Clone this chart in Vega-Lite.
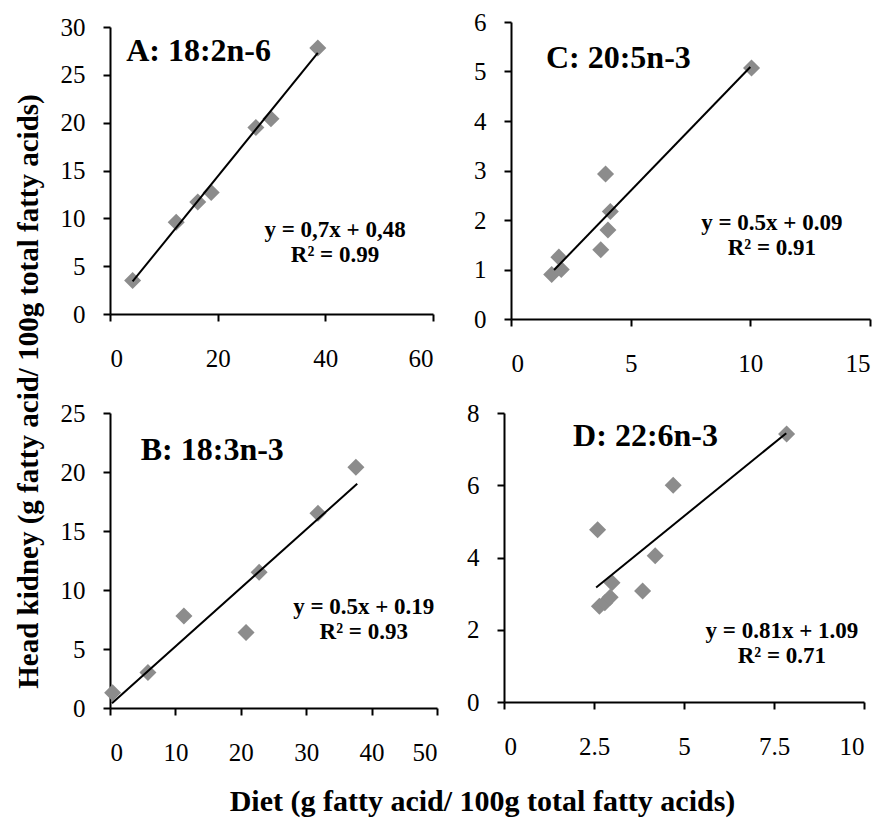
{
  "$schema": "https://vega.github.io/schema/vega-lite/v6.json",
  "background": "white",
  "padding": {"left": 14, "top": 10, "right": 5, "bottom": 5},
  "config": {
    "view": {"stroke": null},
    "font": "Liberation Serif",
    "axis": {
      "grid": false,
      "domainColor": "#000",
      "domainWidth": 2,
      "tickColor": "#000",
      "tickWidth": 2,
      "tickSize": 7,
      "labelFont": "Liberation Serif",
      "labelFontSize": 25,
      "labelColor": "#000",
      "title": null,
      "labelExpr": "'' + datum.value"
    },
    "axisX": {"labelPadding": 25},
    "axisY": {"labelPadding": 18},
    "point": {"shape": "diamond", "filled": true, "size": 290, "color": "#8c8c8c", "opacity": 1},
    "line": {"color": "#000", "strokeWidth": 2},
    "text": {"font": "Liberation Serif", "fontWeight": "bold", "color": "#000"}
  },
  "title": {
    "text": "Head kidney (g fatty acid/ 100g total fatty acids)",
    "orient": "left",
    "anchor": "middle",
    "font": "Liberation Serif",
    "fontSize": 29,
    "fontWeight": "bold",
    "color": "#000",
    "offset": 16,
    "dx": 22
  },
  "spacing": 25,
  "vconcat": [
    {
      "hconcat": [
        {
          "width": 323,
          "height": 287,
          "layer": [
            {
              "data": {"values": [
                {"diet": 4.2, "kidney": 3.5},
                {"diet": 12.3, "kidney": 9.6},
                {"diet": 16.3, "kidney": 11.7},
                {"diet": 18.8, "kidney": 12.7},
                {"diet": 27.1, "kidney": 19.5},
                {"diet": 29.9, "kidney": 20.4},
                {"diet": 38.6, "kidney": 27.8}
              ]},
              "mark": {"type": "point"},
              "encoding": {
                "x": {"field": "diet", "type": "quantitative", "scale": {"domain": [0, 60], "nice": false}, "axis": {"values": [0, 20, 40, 60]}},
                "y": {"field": "kidney", "type": "quantitative", "scale": {"domain": [0, 30], "nice": false}, "axis": {"values": [0, 5, 10, 15, 20, 25, 30]}}
              }
            },
            {
              "data": {"values": [{"diet": 4.2, "kidney": 3.4}, {"diet": 38.6, "kidney": 27.3}]},
              "mark": {"type": "line"},
              "encoding": {
                "x": {"field": "diet", "type": "quantitative"},
                "y": {"field": "kidney", "type": "quantitative"}
              }
            },
            {
              "data": {"values": [{"label": "A: 18:2n-6"}]},
              "mark": {"type": "text", "fontSize": 32, "align": "left", "baseline": "middle"},
              "encoding": {"x": {"datum": 3.0}, "y": {"datum": 27.5}, "text": {"field": "label"}}
            },
            {
              "data": {"values": [{"label": "y = 0,7x + 0,48\nR² = 0.99"}]},
              "mark": {"type": "text", "fontSize": 23, "align": "center", "baseline": "middle", "lineBreak": "\n", "lineHeight": 25},
              "encoding": {"x": {"datum": 41.8}, "y": {"datum": 8.8}, "text": {"field": "label"}}
            }
          ]
        },
        {
          "width": 359,
          "height": 297,
          "layer": [
            {
              "data": {"values": [
                {"diet": 1.7, "kidney": 0.9},
                {"diet": 2.0, "kidney": 1.25},
                {"diet": 2.1, "kidney": 1.0},
                {"diet": 3.75, "kidney": 1.4},
                {"diet": 3.95, "kidney": 2.93},
                {"diet": 4.05, "kidney": 1.8},
                {"diet": 4.15, "kidney": 2.17},
                {"diet": 10.05, "kidney": 5.07}
              ]},
              "mark": {"type": "point"},
              "encoding": {
                "x": {"field": "diet", "type": "quantitative", "scale": {"domain": [0, 15], "nice": false}, "axis": {"values": [0, 5, 10, 15]}},
                "y": {"field": "kidney", "type": "quantitative", "scale": {"domain": [0, 6], "nice": false}, "axis": {"values": [0, 1, 2, 3, 4, 5, 6]}}
              }
            },
            {
              "data": {"values": [{"diet": 1.8, "kidney": 0.99}, {"diet": 10.0, "kidney": 5.09}]},
              "mark": {"type": "line"},
              "encoding": {
                "x": {"field": "diet", "type": "quantitative"},
                "y": {"field": "kidney", "type": "quantitative"}
              }
            },
            {
              "data": {"values": [{"label": "C: 20:5n-3"}]},
              "mark": {"type": "text", "fontSize": 32, "align": "left", "baseline": "middle"},
              "encoding": {"x": {"datum": 1.46}, "y": {"datum": 5.27}, "text": {"field": "label"}}
            },
            {
              "data": {"values": [{"label": "y = 0.5x + 0.09\nR² = 0.91"}]},
              "mark": {"type": "text", "fontSize": 23, "align": "center", "baseline": "middle", "lineBreak": "\n", "lineHeight": 25},
              "encoding": {"x": {"datum": 10.9}, "y": {"datum": 1.94}, "text": {"field": "label"}}
            }
          ]
        }
      ],
      "spacing": 78,
      "bounds": "flush",
      "center": true
    },
    {
      "hconcat": [
        {
          "width": 327,
          "height": 295,
          "layer": [
            {
              "data": {"values": [
                {"diet": 0.4, "kidney": 1.3},
                {"diet": 5.8, "kidney": 3.0},
                {"diet": 11.3, "kidney": 7.8},
                {"diet": 20.8, "kidney": 6.4},
                {"diet": 22.8, "kidney": 11.5},
                {"diet": 31.8, "kidney": 16.5},
                {"diet": 37.6, "kidney": 20.4}
              ]},
              "mark": {"type": "point"},
              "encoding": {
                "x": {"field": "diet", "type": "quantitative", "scale": {"domain": [0, 50], "nice": false}, "axis": {"values": [0, 10, 20, 30, 40, 50]}},
                "y": {"field": "kidney", "type": "quantitative", "scale": {"domain": [0, 25], "nice": false}, "axis": {"values": [0, 5, 10, 15, 20, 25]}}
              }
            },
            {
              "data": {"values": [{"diet": 0.3, "kidney": 0.4}, {"diet": 37.8, "kidney": 19.0}]},
              "mark": {"type": "line"},
              "encoding": {
                "x": {"field": "diet", "type": "quantitative"},
                "y": {"field": "kidney", "type": "quantitative"}
              }
            },
            {
              "data": {"values": [{"label": "B: 18:3n-3"}]},
              "mark": {"type": "text", "fontSize": 32, "align": "left", "baseline": "middle"},
              "encoding": {"x": {"datum": 4.7}, "y": {"datum": 21.9}, "text": {"field": "label"}}
            },
            {
              "data": {"values": [{"label": "y = 0.5x + 0.19\nR² = 0.93"}]},
              "mark": {"type": "text", "fontSize": 23, "align": "center", "baseline": "middle", "lineBreak": "\n", "lineHeight": 25},
              "encoding": {"x": {"datum": 38.8}, "y": {"datum": 8.56}, "text": {"field": "label"}}
            }
          ]
        },
        {
          "width": 360,
          "height": 289,
          "layer": [
            {
              "data": {"values": [
                {"diet": 2.6, "kidney": 4.77},
                {"diet": 2.65, "kidney": 2.65},
                {"diet": 2.8, "kidney": 2.75},
                {"diet": 2.95, "kidney": 2.9},
                {"diet": 3.0, "kidney": 3.3},
                {"diet": 3.85, "kidney": 3.07},
                {"diet": 4.2, "kidney": 4.05},
                {"diet": 4.7, "kidney": 6.0},
                {"diet": 7.85, "kidney": 7.42}
              ]},
              "mark": {"type": "point"},
              "encoding": {
                "x": {"field": "diet", "type": "quantitative", "scale": {"domain": [0, 10], "nice": false}, "axis": {"values": [0, 2.5, 5, 7.5, 10]}},
                "y": {"field": "kidney", "type": "quantitative", "scale": {"domain": [0, 8], "nice": false}, "axis": {"values": [0, 2, 4, 6, 8]}}
              }
            },
            {
              "data": {"values": [{"diet": 2.56, "kidney": 3.17}, {"diet": 7.84, "kidney": 7.44}]},
              "mark": {"type": "line"},
              "encoding": {
                "x": {"field": "diet", "type": "quantitative"},
                "y": {"field": "kidney", "type": "quantitative"}
              }
            },
            {
              "data": {"values": [{"label": "D: 22:6n-3"}]},
              "mark": {"type": "text", "fontSize": 32, "align": "left", "baseline": "middle"},
              "encoding": {"x": {"datum": 1.92}, "y": {"datum": 7.37}, "text": {"field": "label"}}
            },
            {
              "data": {"values": [{"label": "y = 0.81x + 1.09\nR² = 0.71"}]},
              "mark": {"type": "text", "fontSize": 23, "align": "center", "baseline": "middle", "lineBreak": "\n", "lineHeight": 25},
              "encoding": {"x": {"datum": 7.72}, "y": {"datum": 1.97}, "text": {"field": "label"}}
            }
          ]
        }
      ],
      "spacing": 67,
      "bounds": "flush",
      "title": {
        "text": "Diet (g fatty acid/ 100g total fatty acids)",
        "orient": "bottom",
        "anchor": "middle",
        "font": "Liberation Serif",
        "fontSize": 30,
        "fontWeight": "bold",
        "color": "#000",
        "offset": 22,
        "dx": 20
      }
    }
  ]
}
